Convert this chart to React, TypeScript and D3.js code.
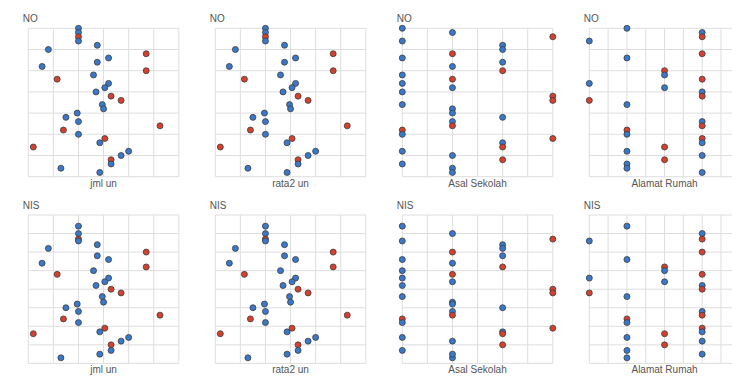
import React from 'react';
import * as d3 from 'd3';

// one entry per student, top to bottom of the NO panels
const noValues = [35, 34, 33, 32, 31, 30, 29, 28, 27, 26, 25, 24, 23, 22, 21, 20, 19, 18, 17, 16, 15, 14, 13, 12, 11, 10, 9, 8, 7, 6, 5, 4, 3, 2, 1];
const nisValues = [1074, 1070, 1067, 1066, 1064, 1062, 1060, 1056, 1058, 1054, 1052, 1050, 1048, 1046, 1044, 1042, 1040, 1038, 1036, 1033, 1032, 1030, 1028, 1026, 1024, 1022, 1019, 1017, 1016, 1014, 1012, 1010, 1007, 1003, 1005];
const jmlUn = [26.0, 26.0, 26.0, 26.0, 27.5, 23.6, 31.4, 28.4, 27.5, 23.1, 31.4, 27.2, 24.3, 28.4, 28.1, 27.4, 28.6, 29.4, 27.9, 28.0, 25.9, 25.0, 26.0, 32.5, 24.8, 26.0, 28.1, 27.7, 22.4, 30.0, 29.4, 28.6, 28.6, 24.6, 27.7];
const rata2Un = [6.5, 6.5, 6.5, 6.5, 6.88, 5.9, 7.85, 7.1, 6.88, 5.78, 7.85, 6.8, 6.08, 7.1, 7.03, 6.85, 7.15, 7.35, 6.98, 7.0, 6.48, 6.25, 6.5, 8.13, 6.2, 6.5, 7.03, 6.93, 5.6, 7.5, 7.35, 7.15, 7.15, 6.15, 6.93];
const asalSekolah = ['SMPN 1', 'SMPN 2', 'SMP Swasta', 'SMPN 1', 'MTsN', 'MTsN', 'SMPN 2', 'SMPN 1', 'MTsN', 'SMPN 2', 'MTsN', 'SMPN 1', 'SMPN 2', 'SMPN 1', 'SMPN 2', 'SMPN 1', 'SMP Swasta', 'SMP Swasta', 'SMPN 1', 'SMPN 2', 'SMPN 2', 'MTsN', 'SMPN 2', 'SMPN 2', 'SMPN 1', 'SMPN 1', 'SMP Swasta', 'MTsN', 'MTsN', 'SMPN 1', 'SMPN 2', 'MTsN', 'SMPN 1', 'SMPN 2', 'SMPN 2'];
const alamatRumah = ['Sukasari', 'Cibodas', 'Cibodas', 'Sukamaju', 'Lainnya', 'Lainnya', 'Cibodas', 'Sukasari', 'Lainnya', 'Lainnya', 'Cikarang', 'Cikarang', 'Cibodas', 'Sukamaju', 'Cikarang', 'Cibodas', 'Cibodas', 'Sukamaju', 'Sukasari', 'Lainnya', 'Lainnya', 'Lainnya', 'Cibodas', 'Cibodas', 'Sukasari', 'Sukasari', 'Cibodas', 'Cibodas', 'Cikarang', 'Sukasari', 'Cibodas', 'Cikarang', 'Sukasari', 'Sukasari', 'Cibodas'];
const kelas = ['Ya', 'Ya', 'Tidak', 'Ya', 'Ya', 'Ya', 'Tidak', 'Ya', 'Ya', 'Ya', 'Tidak', 'Ya', 'Tidak', 'Ya', 'Ya', 'Ya', 'Tidak', 'Tidak', 'Ya', 'Ya', 'Ya', 'Ya', 'Ya', 'Tidak', 'Tidak', 'Ya', 'Tidak', 'Ya', 'Tidak', 'Ya', 'Ya', 'Tidak', 'Ya', 'Ya', 'Ya'];

const sekolahCats = ['SMPN 1', 'SMPN 2', 'MTsN', 'SMP Swasta'];
const alamatCats = ['Sukamaju', 'Sukasari', 'Cikarang', 'Cibodas', 'Lainnya'];

const rowNames = ['NO', 'NIS'];
const colNames = ['jml un', 'rata2 un', 'Asal Sekolah', 'Alamat Rumah'];

const W = 732;
const H = 376;
const plotW = 150.5;
const plotH = 148.4;
const stepX = 187;
const stepY = 186.7;
const left0 = 28.3;
const top0 = 28.3;

const color = d3.scaleOrdinal<string, string>().domain(['Ya', 'Tidak']).range(['#3a78cc', '#d6402e']);

const Panel = ({ row, col }: { row: number; col: number }) => {
  const x0 = left0 + col * stepX;
  const y0 = top0 + row * stepY;

  const y = row === 0
    ? d3.scaleLinear().domain([0, 35]).range([y0 + plotH, y0])
    : d3.scaleLinear().domain([1000, 1080]).range([y0 + plotH, y0]);
  const yTicks = row === 0 ? y.ticks(7) : y.ticks(8);
  const yVals = row === 0 ? noValues : nisValues;

  let xPos: (i: number) => number;
  let xGrid: number[];
  if (col < 2) {
    const x = col === 0
      ? d3.scaleLinear().domain([22, 34]).range([x0, x0 + plotW])
      : d3.scaleLinear().domain([5.5, 8.5]).range([x0, x0 + plotW]);
    const vals = col === 0 ? jmlUn : rata2Un;
    xPos = (i) => x(vals[i]);
    xGrid = x.ticks(6).map((t) => x(t));
  } else {
    const cats = col === 2 ? sekolahCats : alamatCats;
    const vals = col === 2 ? asalSekolah : alamatRumah;
    const x = d3.scalePoint<string>().domain(cats).range([x0, x0 + plotW]);
    xPos = (i) => x(vals[i]) as number;
    const half = x.step() / 2;
    xGrid = d3.range(cats.length * 2 - 1).map((k) => x0 + k * half);
  }

  return (
    <g>
      <text x={x0 - 5.5} y={y0 - 6} fontSize={10} fill="#555" fontFamily="Liberation Sans, Arial, sans-serif">
        {rowNames[row]}
      </text>
      {xGrid.map((gx, k) => (
        <line key={'v' + k} x1={gx} x2={gx} y1={y0} y2={y0 + plotH} stroke="#dedede" strokeWidth={1} />
      ))}
      {yTicks.map((t, k) => (
        <line key={'h' + k} x1={x0} x2={x0 + plotW} y1={y(t)} y2={y(t)} stroke="#dedede" strokeWidth={1} />
      ))}
      {yVals.map((v, i) => (
        <circle key={i} cx={xPos(i)} cy={y(v)} r={3} fill={color(kelas[i])} stroke="#3c3c3c" strokeWidth={0.8} />
      ))}
      <text x={x0 + plotW / 2} y={y0 + plotH + 10} textAnchor="middle" fontSize={10} fill="#555" fontFamily="Liberation Sans, Arial, sans-serif">
        {colNames[col]}
      </text>
    </g>
  );
};

export default function App() {
  return (
    <div style={{ position: 'absolute', left: 0, top: 0, width: W, height: H, overflow: 'hidden', background: '#fff' }}>
      <svg width={W} height={H} style={{ display: 'block' }}>
        <rect width={W} height={H} fill="#fff" />
        {rowNames.map((_, r) => colNames.map((_, c) => <Panel key={r + '-' + c} row={r} col={c} />))}
      </svg>
    </div>
  );
}
